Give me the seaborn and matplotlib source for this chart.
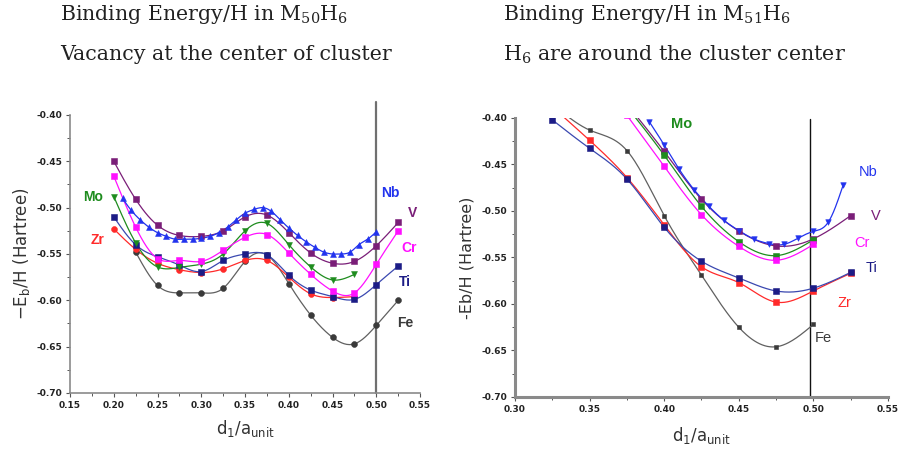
import numpy as np
import pandas as pd
import seaborn as sns
import matplotlib
matplotlib.use("Agg")
import matplotlib.pyplot as plt
from matplotlib.ticker import MultipleLocator, FuncFormatter

# ---------------- data: M50H6, vacancy at the cluster centre ----------------
x_left = [0.200, 0.225, 0.250, 0.275, 0.300, 0.325, 0.350, 0.375,
          0.400, 0.425, 0.450, 0.475, 0.500, 0.525]
fe_left = [-0.548, -0.584, -0.592, -0.592, -0.587, -0.558, -0.551,
           -0.582, -0.616, -0.640, -0.647, -0.627, -0.600]          # from 0.225
mo_left = [-0.488, -0.538, -0.564, -0.5645, -0.561, -0.550, -0.525,
           -0.517, -0.540, -0.564, -0.578, -0.572]                  # to 0.475
zr_left = [-0.523, -0.545, -0.560, -0.567, -0.570, -0.566, -0.557,
           -0.557, -0.575, -0.593, -0.597, -0.596]                  # to 0.475
ti_left = [-0.510, -0.540, -0.553, -0.562, -0.569, -0.557, -0.550,
           -0.551, -0.573, -0.589, -0.596, -0.599, -0.583, -0.563]
cr_left = [-0.466, -0.521, -0.555, -0.557, -0.558, -0.546, -0.532,
           -0.529, -0.549, -0.572, -0.590, -0.592, -0.561, -0.525]
v_left = [-0.450, -0.491, -0.519, -0.530, -0.531, -0.525, -0.510,
          -0.508, -0.527, -0.549, -0.560, -0.558, -0.541, -0.516]
nb_left_x = [0.21, 0.22, 0.23, 0.24, 0.25, 0.26, 0.27, 0.28, 0.29, 0.30,
             0.31, 0.32, 0.33, 0.34, 0.35, 0.36, 0.37, 0.38, 0.39, 0.40,
             0.41, 0.42, 0.43, 0.44, 0.45, 0.46, 0.47, 0.48, 0.49, 0.50]
nb_left = [-0.490, -0.503, -0.513, -0.521, -0.527, -0.531, -0.534, -0.534,
           -0.534, -0.533, -0.531, -0.527, -0.521, -0.513, -0.506, -0.502,
           -0.500, -0.504, -0.513, -0.522, -0.530, -0.537, -0.543, -0.548,
           -0.550, -0.550, -0.548, -0.540, -0.534, -0.526]

# ---------------- data: M51H6, H6 around the cluster centre ----------------
x_right = [0.325, 0.350, 0.375, 0.400, 0.425, 0.450, 0.475, 0.500, 0.525]
fe_right = [-0.385, -0.413, -0.435, -0.505, -0.569, -0.625, -0.646, -0.622]
zr_right = [-0.388, -0.424, -0.464, -0.515, -0.560, -0.577, -0.598, -0.586, -0.567]
ti_right = [-0.402, -0.4326, -0.4656, -0.5175, -0.554, -0.572, -0.586, -0.583, -0.566]
v_right_x = [0.375, 0.400, 0.425, 0.450, 0.475, 0.500, 0.525]
v_right = [-0.385, -0.436, -0.4875, -0.5215, -0.5376, -0.530, -0.505]
mo_right_x = [0.375, 0.400, 0.425, 0.450, 0.475, 0.500]
mo_right = [-0.388, -0.440, -0.495, -0.533, -0.548, -0.531]
cr_right = [-0.397, -0.452, -0.504, -0.538, -0.553, -0.536]        # same x as Mo
nb_right_x = [0.39, 0.40, 0.41, 0.42, 0.43, 0.44, 0.45, 0.46, 0.47,
              0.48, 0.49, 0.50, 0.51, 0.52]
nb_right = [-0.404, -0.429, -0.455, -0.477, -0.495, -0.510, -0.521, -0.530,
            -0.535, -0.536, -0.529, -0.522, -0.512, -0.472]

# ---------------- styling ----------------
sns.set_theme(style="white")
plt.rcParams["font.family"] = ["DejaVu Sans"]
plt.rcParams["mathtext.default"] = "regular"

C = {"Fe": "#3a3a3a", "Mo": "#1e8c1e", "Zr": "#ff2a2a", "Nb": "#2233ee",
     "V": "#7a1e78", "Cr": "#ff10ff", "Ti": "#1c1c86"}
LINE = {"Fe": "#606060", "Ti": "#3a48b0"}


def natural_spline(x, y, n=200):
    """Natural cubic spline through (x, y), evaluated on a dense grid."""
    x = np.asarray(x, float)
    y = np.asarray(y, float)
    k = len(x)
    h = np.diff(x)
    A = np.zeros((k, k))
    r = np.zeros(k)
    A[0, 0] = A[-1, -1] = 1.0
    for i in range(1, k - 1):
        A[i, i - 1] = h[i - 1]
        A[i, i] = 2 * (h[i - 1] + h[i])
        A[i, i + 1] = h[i]
        r[i] = 6 * ((y[i + 1] - y[i]) / h[i] - (y[i] - y[i - 1]) / h[i - 1])
    M = np.linalg.solve(A, r)
    xs = np.linspace(x[0], x[-1], n)
    idx = np.clip(np.searchsorted(x, xs) - 1, 0, k - 2)
    x0, x1 = x[idx], x[idx + 1]
    hh = x1 - x0
    a = (x1 - xs) / hh
    b = (xs - x0) / hh
    ys = (a * y[idx] + b * y[idx + 1]
          + ((a ** 3 - a) * M[idx] + (b ** 3 - b) * M[idx + 1]) * hh ** 2 / 6)
    return xs, ys


def series(ax, x, y, name, marker, s=18):
    xs, ys = natural_spline(x, y)
    sns.lineplot(x=xs, y=ys, ax=ax, color=LINE.get(name, C[name]), lw=0.9,
                 sort=False, estimator=None, legend=False)
    sns.scatterplot(x=x, y=y, ax=ax, color=C[name], marker=marker, s=s,
                    edgecolor=C[name], linewidth=0.4, legend=False, zorder=3)


def style_axes(ax, xlim, xmajor, spine_w):
    ax.set_xlim(*xlim)
    ax.set_ylim(-0.70, -0.40)
    ax.xaxis.set_major_locator(MultipleLocator(xmajor))
    ax.xaxis.set_minor_locator(MultipleLocator(0.025))
    ax.yaxis.set_major_locator(MultipleLocator(0.05))
    ax.yaxis.set_minor_locator(MultipleLocator(0.025))
    fmt = FuncFormatter(lambda v, p: f"{v:.2f}")
    ax.xaxis.set_major_formatter(fmt)
    ax.yaxis.set_major_formatter(fmt)
    for side in ("top", "right"):
        ax.spines[side].set_visible(False)
    for side in ("left", "bottom"):
        ax.spines[side].set_color("#8a8a8a")
        ax.spines[side].set_linewidth(spine_w)
    ax.tick_params(which="both", direction="out", color="#555555",
                   bottom=True, left=True, labelsize=6.5, pad=2.5,
                   labelcolor="#222222")
    ax.tick_params(which="major", length=3, width=0.8)
    ax.tick_params(which="minor", length=2, width=0.7)
    for lab in ax.get_xticklabels() + ax.get_yticklabels():
        lab.set_fontweight("bold")


fig = plt.figure(figsize=(9.07, 4.5), dpi=100)
axL = fig.add_axes([0.0772, 0.1267, 0.386, 0.6178])
axR = fig.add_axes([0.5678, 0.1178, 0.4112, 0.62])

# ---- left panel ----
style_axes(axL, (0.15, 0.55), 0.05, 1.2)
axL.axvline(0.50, ymin=0, ymax=1.045, color="#707070", lw=1.6, clip_on=False, zorder=1)
series(axL, x_left[1:], fe_left, "Fe", "o")
series(axL, x_left[:12], zr_left, "Zr", "o")
series(axL, x_left, ti_left, "Ti", "s", 16)
series(axL, x_left[:12], mo_left, "Mo", "v")
series(axL, x_left, cr_left, "Cr", "s", 16)
series(axL, x_left, v_left, "V", "s", 16)
series(axL, nb_left_x, nb_left, "Nb", "^")

lab_kw = dict(fontsize=10, fontweight="bold", ha="center", va="center",
              family=["Liberation Sans", "DejaVu Sans"])
axL.text(0.176, -0.4886, "Mo", color=C["Mo"], **lab_kw)
axL.text(0.181, -0.535, "Zr", color=C["Zr"], **lab_kw)
axL.text(0.516, -0.484, "Nb", color=C["Nb"], clip_on=False, **lab_kw)
axL.text(0.541, -0.506, "V", color=C["V"], clip_on=False, **lab_kw)
axL.text(0.537, -0.544, "Cr", color=C["Cr"], clip_on=False, **lab_kw)
axL.text(0.533, -0.580, "Ti", color=C["Ti"], clip_on=False, **lab_kw)
axL.text(0.533, -0.625, "Fe", color=C["Fe"], clip_on=False, **lab_kw)

axL.set_xlabel(r"d$_1$/a$_{unit}$", fontsize=12, color="#333333", labelpad=6)
axL.set_ylabel(r"$-$E$_b$/H (Hartree)", fontsize=12, color="#333333", labelpad=3)

# ---- right panel ----
style_axes(axR, (0.30, 0.55), 0.05, 2.2)
axR.axvline(0.498, ymin=0, ymax=0.995, color="#111111", lw=1.0, zorder=1)
series(axR, x_right[:8], fe_right, "Fe", "s", 12)
series(axR, x_right, zr_right, "Zr", "s", 14)
series(axR, x_right, ti_right, "Ti", "s", 14)
series(axR, v_right_x, v_right, "V", "s", 14)
series(axR, mo_right_x, mo_right, "Mo", "s", 14)
series(axR, mo_right_x, cr_right, "Cr", "s", 14)
series(axR, nb_right_x, nb_right, "Nb", "v", 16)

rk = dict(fontsize=10.5, ha="center", va="center",
          family=["Liberation Sans", "DejaVu Sans"])
axR.text(0.412, -0.4065, "Mo", color=C["Mo"], fontweight="bold", **rk)
axR.text(0.5366, -0.458, "Nb", color=C["Nb"], **rk)
axR.text(0.542, -0.505, "V", color=C["V"], **rk)
axR.text(0.5326, -0.534, "Cr", color=C["Cr"], **rk)
axR.text(0.539, -0.561, "Ti", color=C["Ti"], **rk)
axR.text(0.521, -0.599, "Zr", color=C["Zr"], **rk)
axR.text(0.501, -0.6366, "Fe", color=C["Fe"], fontsize=10.5, ha="left", va="center",
         family=["Liberation Sans", "DejaVu Sans"])

axR.set_xlabel(r"d$_1$/a$_{unit}$", fontsize=12, color="#333333", labelpad=8)
axR.set_ylabel("-Eb/H (Hartree)", fontsize=11.5, color="#333333", labelpad=5)

# ---- headings ----
serif = ["DejaVu Serif"]
tk = dict(fontsize=14.8, family=serif, color="#222222", ha="left", va="center")
fig.text(60 / 907, 1 - 15 / 450, r"Binding Energy/H in M$_{50}$H$_6$", **tk)
fig.text(60 / 907, 1 - 55 / 450, "Vacancy at the center of cluster", **tk)
fig.text(503 / 907, 1 - 15 / 450, r"Binding Energy/H in M$_{51}$H$_6$", **tk)
fig.text(503 / 907, 1 - 55 / 450, r"H$_6$ are around the cluster center", **tk)

fig.savefig("out.png", dpi=100)
